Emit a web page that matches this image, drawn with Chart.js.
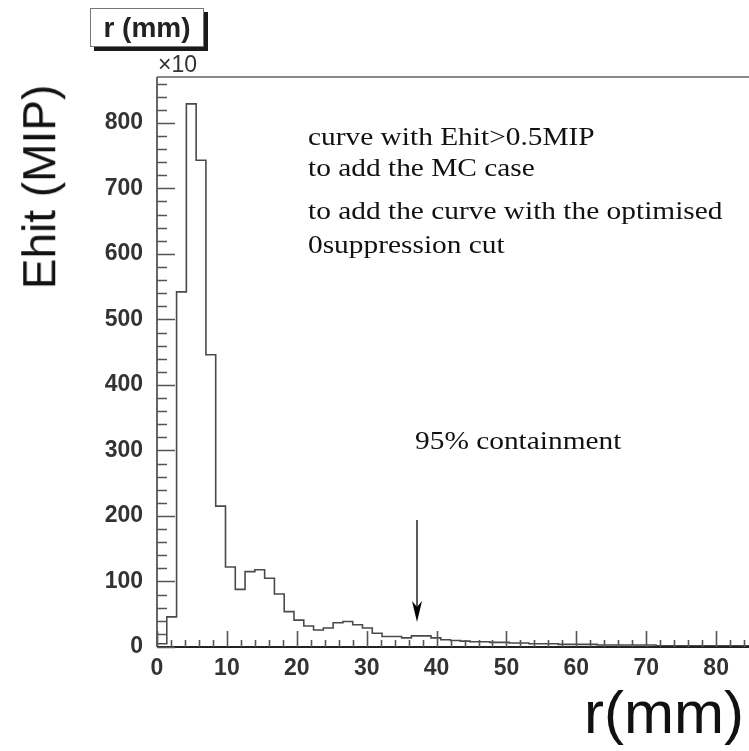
<!DOCTYPE html>
<html>
<head>
<meta charset="utf-8">
<script src="https://cdn.jsdelivr.net/npm/chart.js@4/dist/chart.umd.min.js"></script>
<style>
    body { margin: 0; background: #fff; }
    #wrap { position: relative; width: 749px; height: 751px; overflow: hidden; }
    #plot { position: absolute; left: 0; top: 0; }
    .lbl { position: absolute; white-space: nowrap; line-height: 1; }
    .note {
        font-family: "Liberation Serif", "DejaVu Serif", serif; font-size: 26px; color: #111;
        transform: scaleX(1.13); transform-origin: left center;
    }
    .big { font-family: "Liberation Sans", Arial, sans-serif; color: #111; }
    #statbox {
        position: absolute; left: 90px; top: 8px; width: 112px; height: 37px;
        border: 1.5px solid #777; background: #fff; box-shadow: 4px 4px 0 #1a1a1a;
        font: bold 28px "Liberation Sans", Arial, sans-serif; color: #222;
        text-align: center; line-height: 37px;
    }
</style>
</head>
<body>
<div id="wrap">
    <canvas id="plot" width="749" height="751"></canvas>
    <div id="statbox">r (mm)</div>
    <div class="lbl big" style="left:158px; top:53px; font-size:23px; color:#333;">×10</div>
    <div class="lbl big" style="font-size:46px; left:-63px; top:164px; transform: rotate(-90deg);">Ehit (MIP)</div>
    <div class="lbl big" style="left:584px; top:683px; font-size:60px;">r(mm)</div>
    <div class="lbl note" style="left:308px; top:124px;">curve with Ehit&gt;0.5MIP</div>
    <div class="lbl note" style="left:308px; top:155px;">to add the MC case</div>
    <div class="lbl note" style="left:308px; top:198px;">to add the curve with the optimised</div>
    <div class="lbl note" style="left:308px; top:232px;">0suppression cut</div>
    <div class="lbl note" style="left:415px; top:428px;">95% containment</div>
</div>
<script>
// histogram: r (mm) bins of fixed width, Ehit per bin (x10 MIP)
const binWidth = 1.4;
const ehitValues = [
    5, 46, 542, 829, 743, 446, 215, 122, 88, 115,
    118, 105, 81, 54, 41, 32, 26, 29, 37, 39,
    34, 29, 21, 16, 16, 14, 17, 17, 14, 11,
    10, 9, 8, 8, 7, 7, 6, 6, 5, 5,
    5, 4, 4, 4, 4, 3, 3, 3, 3, 3,
    3, 2, 2, 2, 2, 2, 2, 2, 2, 2, 2
];

const xMin = 0, xMax = 84.7, xMajor = 10, xMinor = 2;
const yMin = 0, yMax = 870, yMajor = 100, yMinor = 20;

// 95% containment arrow (r, Ehit)
const arrowR = 37.2;
const arrowTop = 194;
const arrowTip = 38;

// step points at bin edges
const points = [{ x: 0, y: 0 }];
ehitValues.forEach((v, i) => points.push({ x: i * binWidth, y: v }));
points.push({ x: ehitValues.length * binWidth, y: ehitValues[ehitValues.length - 1] });

const rootFrame = {
    id: "rootFrame",
    afterDatasetsDraw(chart) {
        const ctx = chart.ctx;
        const a = chart.chartArea;
        const xs = chart.scales.x, ys = chart.scales.y;
        ctx.save();

        // frame lines
        ctx.strokeStyle = "#888";
        ctx.lineWidth = 2;
        ctx.beginPath();
        ctx.moveTo(a.left, a.top);
        ctx.lineTo(a.right, a.top);
        ctx.stroke();

        ctx.strokeStyle = "#666";
        ctx.beginPath();
        ctx.moveTo(a.left, a.top);
        ctx.lineTo(a.left, a.bottom);
        ctx.stroke();

        ctx.strokeStyle = "#222";
        ctx.beginPath();
        ctx.moveTo(a.left, a.bottom);
        ctx.lineTo(a.right, a.bottom);
        ctx.stroke();

        // inward ticks
        ctx.strokeStyle = "#555";
        ctx.lineWidth = 1.6;
        ctx.beginPath();
        for (let v = yMin; v <= yMax; v += yMinor) {
            const py = Math.round(ys.getPixelForValue(v)) + 0.5;
            const len = v % yMajor === 0 ? 18 : 10;
            ctx.moveTo(a.left, py);
            ctx.lineTo(a.left + len, py);
        }
        for (let v = xMin; v <= xMax; v += xMinor) {
            const px = Math.round(xs.getPixelForValue(v)) + 0.5;
            const len = v % xMajor === 0 ? 16 : 7;
            ctx.moveTo(px, a.bottom);
            ctx.lineTo(px, a.bottom - len);
        }
        ctx.stroke();

        // arrow
        const ax = xs.getPixelForValue(arrowR);
        const ay0 = ys.getPixelForValue(arrowTop);
        const ay1 = ys.getPixelForValue(arrowTip);
        ctx.strokeStyle = "#000";
        ctx.fillStyle = "#000";
        ctx.lineWidth = 1.3;
        ctx.beginPath();
        ctx.moveTo(ax, ay0);
        ctx.lineTo(ax, ay1 - 10);
        ctx.stroke();
        ctx.beginPath();
        ctx.moveTo(ax, ay1);
        ctx.lineTo(ax - 5, ay1 - 21);
        ctx.lineTo(ax, ay1 - 15);
        ctx.lineTo(ax + 5, ay1 - 21);
        ctx.closePath();
        ctx.fill();

        ctx.restore();
    }
};

const tickFont = { family: "'Liberation Sans', Arial, sans-serif", size: 23, weight: "bold" };

new Chart(document.getElementById("plot"), {
    type: "line",
    data: {
        datasets: [{
            data: points,
            stepped: true,
            borderColor: "#4a4a4a",
            borderWidth: 1.6,
            pointRadius: 0,
            fill: false
        }]
    },
    options: {
        responsive: false,
        animation: false,
        layout: { padding: { top: 77, right: 0, left: 0, bottom: 0 } },
        plugins: { legend: { display: false }, tooltip: { enabled: false } },
        scales: {
            x: {
                type: "linear",
                min: xMin,
                max: xMax,
                grid: { display: false },
                border: { display: false },
                ticks: {
                    stepSize: xMajor,
                    includeBounds: false,
                    autoSkip: false,
                    maxRotation: 0,
                    padding: 0,
                    color: "#333",
                    font: tickFont
                },
                afterFit: s => { s.height = 104; }
            },
            y: {
                min: yMin,
                max: yMax,
                grid: { display: false },
                border: { display: false },
                ticks: {
                    stepSize: yMajor,
                    includeBounds: false,
                    padding: 6,
                    color: "#333",
                    font: tickFont
                },
                afterFit: s => { s.width = 157; }
            }
        }
    },
    plugins: [rootFrame]
});
</script>
</body>
</html>
